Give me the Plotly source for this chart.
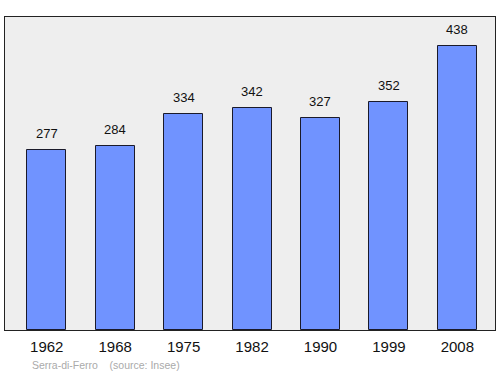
import plotly.graph_objects as go

years = ["1962", "1968", "1975", "1982", "1990", "1999", "2008"]
population = [277, 284, 334, 342, 327, 352, 438]
footer = "Serra-di-Ferro    (source: Insee)"

xs = list(range(len(years)))

fig = go.Figure()
fig.add_trace(go.Bar(
    x=xs, y=population, width=0.57,
    marker=dict(color="#7093ff", line=dict(color="#1a1a2a", width=1)),
    hoverinfo="skip",
))

for x, v in zip(xs, population):
    fig.add_annotation(x=x, y=v, text=str(v), showarrow=False, yanchor="bottom",
                       yshift=7, font=dict(family="Liberation Sans, Arial", size=13, color="#111"))

fig.add_annotation(xref="paper", yref="paper", x=25/490, y=-35/313, xanchor="left", yanchor="middle",
                   text=footer, showarrow=False,
                   font=dict(family="Liberation Sans, Arial", size=10.5, color="#aaaaaa"))

fig.update_layout(
    width=500, height=374,
    margin=dict(l=5, r=5, t=17, b=44),
    paper_bgcolor="white", plot_bgcolor="#eeeeee",
    showlegend=False, bargap=0,
    xaxis=dict(range=[-0.61, 6.55], tickmode="array", tickvals=xs, ticktext=years,
               showgrid=False, zeroline=False, showline=True, mirror=True,
               linecolor="#222", linewidth=1.2, ticks="", ticklen=0, ticklabelstandoff=3,
               tickfont=dict(family="Liberation Sans, Arial", size=15, color="#111")),
    yaxis=dict(range=[0, 483], showgrid=False, zeroline=False, showline=True, mirror=True,
               linecolor="#222", linewidth=1.2, showticklabels=False, ticks=""),
)

fig.write_html("out.html")
